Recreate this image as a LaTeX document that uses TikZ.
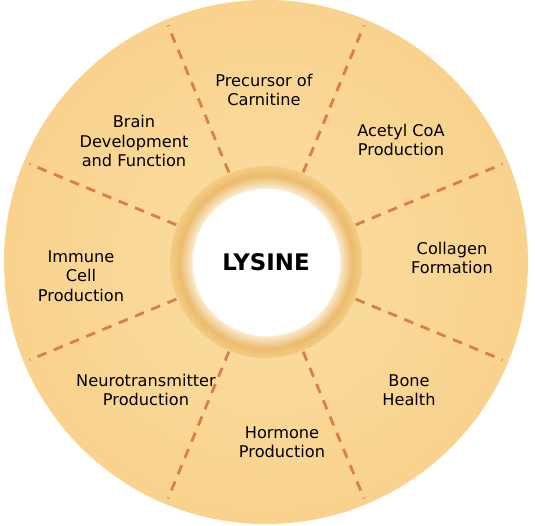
\documentclass[tikz,border=0pt]{standalone}
\usepackage{fontspec}
\setmainfont{DejaVu Sans}
\definecolor{diskin}{HTML}{FBDFA3}
\definecolor{diskout}{HTML}{F9D28D}
\definecolor{ringin}{HTML}{FBEACB}
\definecolor{ringmid}{HTML}{EBBB6E}
\definecolor{ringout}{HTML}{F4CD82}
\definecolor{divider}{HTML}{DA7F45}
\pgfdeclareradialshading{ringshade}{\pgfpoint{0bp}{0bp}}{color(0bp)=(white); color(19.1bp)=(white); color(19.3bp)=(ringin); color(22.5bp)=(ringmid); color(25bp)=(ringout); color(50bp)=(ringout)}
\begin{document}
\begin{tikzpicture}[label/.style={align=center,font=\fontsize{9.2}{11}\selectfont,text=black},
    divide/.style={divider,dash pattern=on 5.5pt off 4.5pt,line width=1.6pt}]
    \useasboundingbox (-5.32,-5.28) rectangle (5.38,5.24);
    \shade[inner color=diskin,outer color=diskout] (0,0) circle (5.24);
    \foreach \a in {22.5,67.5,...,337.5}
        \draw[divide] (\a:1.94) -- (\a:5.12);
    \shade[shading=ringshade] (0,0) circle (1.92);
    \node[font=\fontsize{13}{15}\selectfont\bfseries] (lysine) at (0,0) {LYSINE};
    \node[label] (precursor) at (-0.04,3.44) {Precursor of\\Carnitine};
    \node[label] (acetyl) at (2.70,2.44) {Acetyl CoA\\Production};
    \node[label] (collagen) at (3.72,0.08) {Collagen\\Formation};
    \node[label] (bone) at (2.86,-2.56) {Bone\\Health};
    \node[label] (hormone) at (0.32,-3.60) {Hormone\\Production};
    \node[label] (neuro) at (-2.40,-2.56) {Neurotransmitter\\Production};
    \node[label] (immune) at (-3.70,-0.28) {Immune\\Cell\\Production};
    \node[label] (brain) at (-2.64,2.42) {Brain\\Development\\and Function};
\end{tikzpicture}
\end{document}
